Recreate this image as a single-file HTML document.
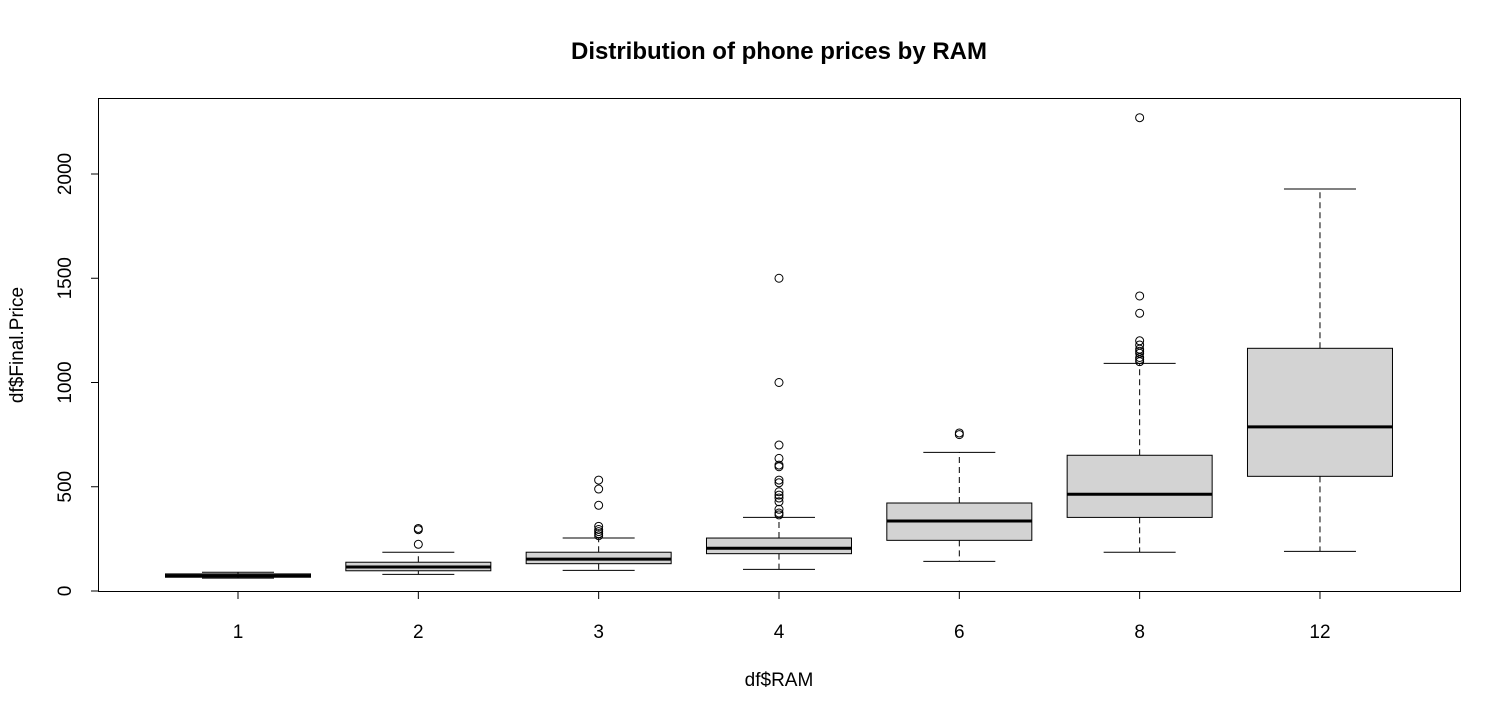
<!DOCTYPE html>
<html><head><meta charset="utf-8">
<style>
body{margin:0;background:#fff;}
svg{display:block;font-family:"Liberation Sans",Arial,sans-serif;}
</style></head>
<body>
<svg id="chart" width="1511" height="717" viewBox="0 0 1511 717" xmlns="http://www.w3.org/2000/svg">
<rect x="0" y="0" width="1511" height="717" fill="#fff"/>
<text x="779" y="59" text-anchor="middle" font-size="24" font-weight="bold">Distribution of phone prices by RAM</text>
<text x="779" y="686" text-anchor="middle" font-size="19">df$RAM</text>
<text transform="translate(23,345) rotate(-90)" text-anchor="middle" font-size="19">df$Final.Price</text>
<rect x="98.5" y="98.5" width="1362" height="493" fill="none" stroke="#000" stroke-width="1"/>
<g id="marks"></g>
</svg>
<script>
const categories = ["1","2","3","4","6","8","12"];
const lowerWhisker = [62, 80, 99, 104, 142, 186, 190];
const q1 = [66, 97, 131, 179, 243, 353, 550];
const medians = [73, 115, 153, 205, 336, 464, 787];
const q3 = [82, 138, 186, 254, 422, 651, 1164];
const upperWhisker = [90, 186, 254, 353, 665, 1092, 1928];
const outliers = [
  [],
  [224, 294, 300],
  [265, 275, 285, 295, 310, 411, 489, 532],
  [365, 374, 392, 428, 446, 460, 476, 519, 532, 596, 604, 636, 700, 1000, 1500],
  [750, 758],
  [1100, 1110, 1120, 1140, 1150, 1160, 1180, 1200, 1332, 1415, 2270],
  []
];
const yTicks = [0, 500, 1000, 1500, 2000];

const NS = "http://www.w3.org/2000/svg";
function xScale(i){ return 238 + i * 180.33; }
function yScale(v){ return 591 - v * 0.2085; }
const boxHalf = 72.5;
const g = document.getElementById('marks');
function mk(tag, attrs){ const e = document.createElementNS(NS, tag); for (const k in attrs) e.setAttribute(k, attrs[k]); g.appendChild(e); return e; }

let ya = mk('line',{x1:98.5,x2:98.5,y1:yScale(0),y2:yScale(2000),stroke:'#000'});


yTicks.forEach(v=>{
  const y = yScale(v);
  let t = mk('line',{x1:91,x2:98.5,y1:y,y2:y,stroke:'#000'});
  
  
  let l = mk('text',{transform:`translate(71,${y}) rotate(-90)`,'text-anchor':'middle','font-size':19});
  l.textContent = v;
  
  
});
let xa = mk('line',{x1:xScale(0),x2:xScale(categories.length-1),y1:591.5,y2:591.5,stroke:'#000'});


categories.forEach((c,i)=>{
  const x = xScale(i);
  let t = mk('line',{x1:x,x2:x,y1:591.5,y2:599,stroke:'#000'});
  
  
  let l = mk('text',{x:x,y:638,'text-anchor':'middle','font-size':19});
  l.textContent = c;
  
  

  const wl = mk('line',{x1:x,x2:x,y1:yScale(q3[i]),y2:yScale(upperWhisker[i]),stroke:'#000','stroke-dasharray':'6,4'});
  
  
  const wl2 = mk('line',{x1:x,x2:x,y1:yScale(q1[i]),y2:yScale(lowerWhisker[i]),stroke:'#000','stroke-dasharray':'6,4'});
  
  
  const cu = mk('line',{x1:x-36,x2:x+36,y1:yScale(upperWhisker[i]),y2:yScale(upperWhisker[i]),stroke:'#000'});
  
  
  const cl = mk('line',{x1:x-36,x2:x+36,y1:yScale(lowerWhisker[i]),y2:yScale(lowerWhisker[i]),stroke:'#000'});
  
  
  const b = mk('rect',{x:x-boxHalf,y:yScale(q3[i]),width:boxHalf*2,height:yScale(q1[i])-yScale(q3[i]),fill:'#d3d3d3',stroke:'#000','stroke-width':1});
  
  
  const m = mk('line',{x1:x-boxHalf,x2:x+boxHalf,y1:yScale(medians[i]),y2:yScale(medians[i]),stroke:'#000','stroke-width':3});
  
  
  outliers[i].forEach(v=>{
    const o = mk('circle',{cx:x,cy:yScale(v),r:4,fill:'none',stroke:'#000','stroke-width':1});
    
    
  });
});
</script>
</body></html>
